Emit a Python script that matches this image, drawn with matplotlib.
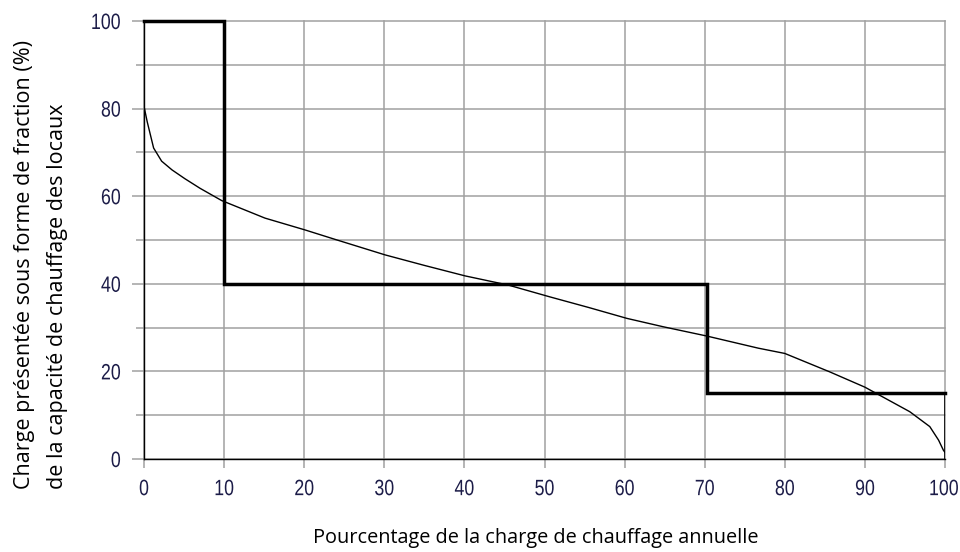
import matplotlib

matplotlib.use("Agg")
import matplotlib.pyplot as plt
from matplotlib.patheffects import AbstractPathEffect
from matplotlib.transforms import Affine2D, ScaledTranslation

# Load-duration curve
load_x = [0, 0.4, 1.2, 2.2, 3.5, 5.1, 7.0, 9.7, 15.1, 20.1, 24.1, 30.1, 35.0,
          40.1, 45.5, 50.7, 55.5, 60.3, 64.8, 70.2, 76.7, 80.0, 85.6, 90.0, 92.3,
          95.6, 98.1, 99.2, 99.8, 100]
load_y = [80.5, 77.0, 71.0, 68.0, 66.0, 64.0, 61.8, 59.0, 55.0, 52.3, 50.0, 46.6,
          44.2, 41.8, 39.7, 37.0, 34.6, 32.1, 30.2, 28.1, 25.3, 24.1, 19.9, 16.4,
          14.1, 10.8, 7.4, 4.3, 2.0, 1.5]

# Staged capacity (thick step line)
step_x = [0, 10, 10, 70.3, 70.3, 100]
step_y = [100, 100, 40, 40, 15, 15]

x_ticks = list(range(0, 101, 10))
y_major = list(range(0, 101, 20))
y_minor = list(range(10, 100, 20))

xlabel = "Pourcentage de la charge de chauffage annuelle"
ylabel_1 = "Charge présentée sous forme de fraction (%)"
ylabel_2 = "de la capacité de chauffage des locaux"

GRID = "#a0a0a0"
TICK_TXT = "#1c1c48"
LABEL_FONT = ["Open Sans", "DejaVu Sans"]
TICK_FONT = ["Liberation Sans", "DejaVu Sans"]


class Narrow(AbstractPathEffect):
    """Squeeze glyphs horizontally (no narrow font installed).

    anchor: 0 keeps the left end fixed, 0.5 the centre, 1 the right end.
    """

    def __init__(self, sx, anchor):
        super().__init__()
        self.sx = sx
        self.anchor = anchor

    def draw_path(self, renderer, gc, tpath, affine, rgbFace=None):
        ext = tpath.get_extents()
        x0 = ext.x0 + self.anchor * (ext.x1 - ext.x0)
        squeeze = Affine2D().translate(-x0, 0).scale(self.sx, 1).translate(x0, 0)
        renderer.draw_path(gc, tpath, squeeze + affine, rgbFace)


fig = plt.figure(figsize=(9.6, 5.52), dpi=100)
ax = fig.add_axes([144 / 960, 93 / 552, 801 / 960, 438 / 552])

ax.set_xlim(0, 100)
ax.set_ylim(0, 100)
ax.set_xticks(x_ticks)
ax.set_yticks(y_major)
ax.set_yticks(y_minor, minor=True)
ax.set_xticklabels([str(v) for v in x_ticks])
ax.set_yticklabels([str(v) for v in y_major])

ax.grid(True, which="both", color=GRID, lw=1.1)
ax.set_axisbelow(True)

ax.tick_params(axis="x", which="major", length=6.5, width=1.1, color=GRID, pad=8,
               labelsize=16, labelcolor=TICK_TXT)
ax.tick_params(axis="y", which="major", length=8.6, width=1.1, color=GRID, pad=8,
               labelsize=16, labelcolor=TICK_TXT)
ax.tick_params(axis="y", which="minor", length=5.8, width=1.1, color=GRID)
for lab in ax.get_xticklabels():
    lab.set_family(TICK_FONT)
    lab.set_path_effects([Narrow(0.8, 0.5)])
for lab in ax.get_yticklabels():
    lab.set_family(TICK_FONT)
    lab.set_path_effects([Narrow(0.8, 1.0)])

# last x label hugs the right edge: anchor it by its right end instead
last = ax.get_xticklabels()[-1]
last.set_horizontalalignment("right")
last.set_path_effects([Narrow(0.8, 1.0)])
last.set_transform(last.get_transform() + ScaledTranslation(0.14, 0, fig.dpi_scale_trans))

# gridlines sitting on the 100 limits must not be half clipped
for tick in ax.xaxis.get_major_ticks() + ax.yaxis.get_major_ticks() + ax.yaxis.get_minor_ticks():
    tick.gridline.set_clip_on(False)

for side in ("top", "right"):
    ax.spines[side].set_visible(False)
for side in ("left", "bottom"):
    ax.spines[side].set_color("black")
    ax.spines[side].set_linewidth(1.0)

ax.plot(load_x, load_y, color="black", lw=1.0, zorder=3)
ax.plot(step_x, step_y, color="black", lw=2.5, solid_joinstyle="miter", zorder=4,
        clip_on=False)
ax.vlines(step_x[-1], 0, step_y[-1], color="black", lw=1.2, zorder=4)

fig.text(313 / 960, 1 - 543 / 552, xlabel, fontsize=14.3, family=LABEL_FONT,
         ha="left", va="baseline")
fig.text(30 / 960, 1 - 489 / 552, ylabel_1, fontsize=15.5, family=LABEL_FONT,
         rotation=90, rotation_mode="anchor", ha="left", va="baseline")
fig.text(63 / 960, 1 - 489 / 552, ylabel_2, fontsize=15.5, family=LABEL_FONT,
         rotation=90, rotation_mode="anchor", ha="left", va="baseline")

fig.savefig("out.png", dpi=100, facecolor="white")
